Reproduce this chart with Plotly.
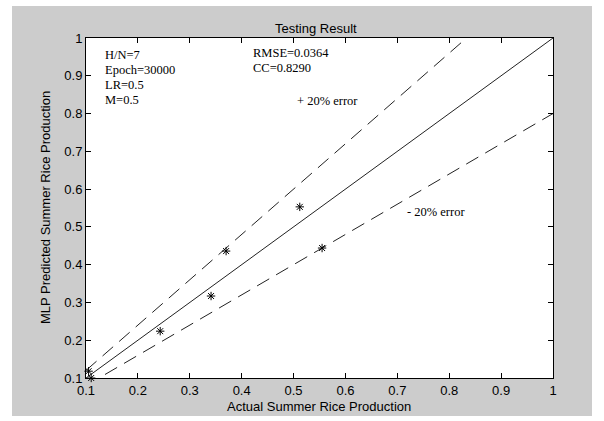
import plotly.graph_objects as go

# Data
actual = [0.105, 0.110, 0.243, 0.341, 0.370, 0.512, 0.555]
predicted = [0.118, 0.100, 0.224, 0.317, 0.436, 0.553, 0.444]
ref_x = [0.1, 1.0]
factors = {"solid": 1.0, "upper": 1.2, "lower": 0.8}
ticks = [0.1, 0.2, 0.3, 0.4, 0.5, 0.6, 0.7, 0.8, 0.9, 1.0]
tick_text = ["0.1", "0.2", "0.3", "0.4", "0.5", "0.6", "0.7", "0.8", "0.9", "1"]

fig = go.Figure()
for name, f in factors.items():
    fig.add_trace(go.Scatter(
        x=ref_x, y=[v * f for v in ref_x], mode="lines",
        line=dict(color="#222222", width=1,
                  dash="solid" if name == "solid" else "14px,8px"),
        showlegend=False, hoverinfo="skip"))

fig.add_trace(go.Scatter(
    x=actual, y=predicted, mode="markers",
    marker=dict(symbol="asterisk-open", size=7, color="black",
                line=dict(color="#222222", width=1)),
    showlegend=False, cliponaxis=False))

L, R, T, B = 86, 51, 38, 43
W, H = 604, 421
pw, ph = W - L - R, H - T - B

def px(X):
    return (X - L) / pw

def py(Y):
    return (H - B - Y) / ph

axis_common = dict(range=[0.1, 1.0], tickvals=ticks, ticktext=tick_text,
                   ticks="inside", ticklen=5, tickcolor="black", tickwidth=1,
                   showline=True, linecolor="black", linewidth=1, mirror="ticks",
                   showgrid=False, zeroline=False,
                   tickfont=dict(family="Liberation Sans, Arial", size=13, color="black"))

fig.update_layout(
    width=W, height=H,
    margin=dict(l=L, r=R, t=T, b=B, pad=0),
    paper_bgcolor="white", plot_bgcolor="white",
    xaxis=dict(**axis_common),
    yaxis=dict(**axis_common),
    shapes=[
        dict(type="rect", xref="paper", yref="paper", layer="below",
             x0=px(12), x1=px(592), y0=py(416), y1=py(6),
             fillcolor="#cccccc", line=dict(width=0)),
        dict(type="rect", xref="paper", yref="paper", layer="below",
             x0=0, x1=1, y0=0, y1=1,
             fillcolor="white", line=dict(width=0)),
    ],
)

serif = dict(family="Liberation Serif, Times New Roman", size=12.5, color="black")
sans = dict(family="Liberation Sans, Arial", size=13, color="black")

notes = [
    ("H/N=7", 105, 55), ("Epoch=30000", 105, 70), ("LR=0.5", 105, 85),
    ("M=0.5", 105, 100), ("RMSE=0.0364", 253, 53), ("CC=0.8290", 253, 68),
    ("+ 20% error", 297, 101), ("- 20% error", 407, 212),
]
for txt, X, Y in notes:
    fig.add_annotation(text=txt, xref="paper", yref="paper", x=px(X), y=py(Y),
                       xanchor="left", yanchor="middle", showarrow=False,
                       font=serif, borderpad=0, xshift=-1)

fig.add_annotation(text="Testing Result", xref="paper", yref="paper",
                   x=px(316), y=py(28), xanchor="center", yanchor="middle",
                   showarrow=False, font=sans)
fig.add_annotation(text="Actual Summer Rice Production", xref="paper", yref="paper",
                   x=px(319), y=py(406), xanchor="center", yanchor="middle",
                   showarrow=False, font=sans)
fig.add_annotation(text="MLP Predicted Summer Rice Production", xref="paper", yref="paper",
                   x=px(45), y=py(208), xanchor="center", yanchor="middle",
                   textangle=-90, showarrow=False, font=sans)

fig.write_html("out.html")
